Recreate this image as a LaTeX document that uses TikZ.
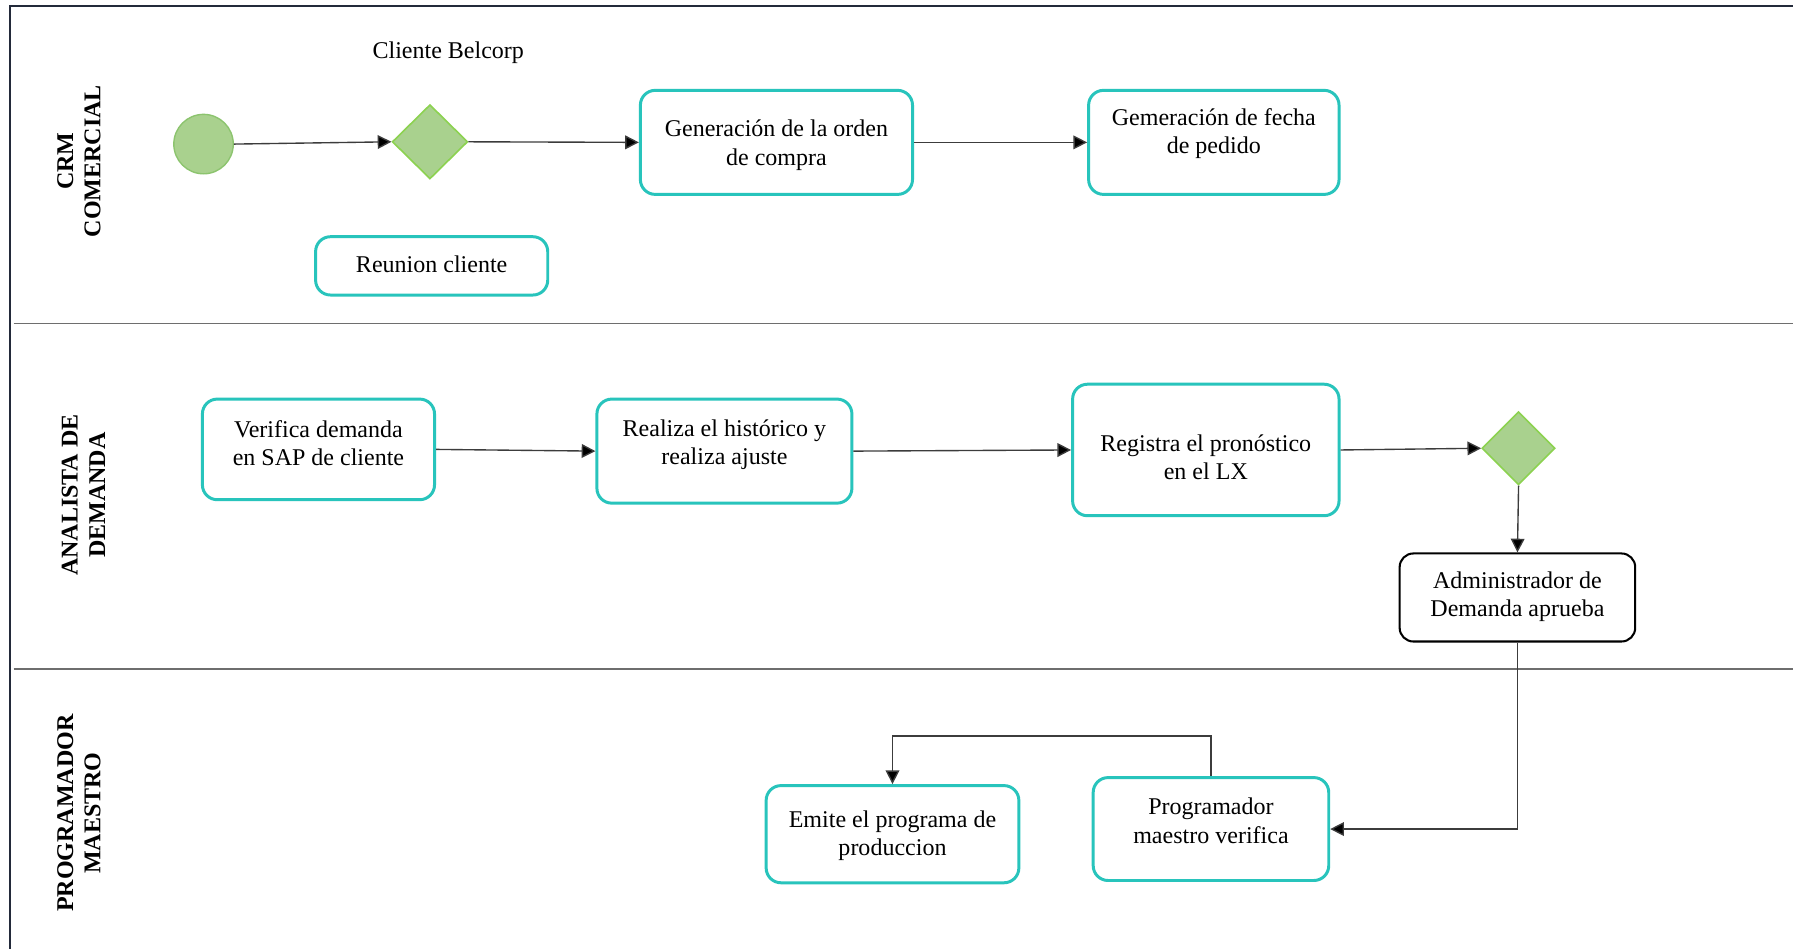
\documentclass[tikz,border=0pt]{standalone}
\usepackage{fontspec}
\setmainfont{Liberation Serif}
\usetikzlibrary{shapes.geometric,arrows.meta}
\definecolor{boxteal}{RGB}{40,196,188}
\definecolor{evgreen}{RGB}{169,209,142}
\definecolor{evedge}{RGB}{140,196,110}
\definecolor{gwedge}{RGB}{140,210,80}
\definecolor{frame}{RGB}{35,42,58}
\definecolor{sep}{RGB}{110,110,110}
\definecolor{flow}{RGB}{60,60,60}
\begin{document}
\begin{tikzpicture}[x=1pt,y=-1pt,
  txt/.style={font=\fontsize{21}{25}\selectfont, align=center, inner sep=0pt, yshift=-2.5pt},
  lane/.style={font=\fontsize{21}{24}\selectfont\bfseries, align=center, rotate=90, inner sep=0pt},
  box/.style={draw=boxteal, line width=2.6pt, rounded corners=13pt, fill=white, inner sep=0pt},
  blackbox/.style={draw=black, line width=1.8pt, rounded corners=12pt, fill=white, inner sep=0pt},
  startev/.style={circle, draw=evedge, line width=1.2pt, fill=evgreen, minimum size=52pt, inner sep=0pt},
  gateway/.style={diamond, draw=gwedge, line width=1.4pt, fill=evgreen, inner sep=0pt},
  flowline/.style={draw=flow, line width=1.2pt, -{Triangle[length=12pt,width=12pt,fill=black]}}
]
\useasboundingbox (0,0) rectangle (1568,830);
\fill[white] (0,0) rectangle (1568,830);

% pool frame and lane separators
\draw[frame, line width=2pt] (1568,5) -- (9,5) -- (9,830);
\draw[sep, line width=1.5pt] (12,283) -- (1568,283);
\draw[sep, line width=1.5pt] (12,585) -- (1568,585);

% lane titles
\node[lane] (laneA) at (69,141) {CRM\\COMERCIAL};
\node[lane] (laneB) at (73,433) {ANALISTA DE\\DEMANDA};
\node[lane] (laneC) at (69,711) {PROGRAMADOR\\MAESTRO};

% CRM comercial
\node[startev] (start) at (178,126) {};
\node[gateway, minimum width=66pt, minimum height=65pt] (gw1) at (376,124) {};
\node[txt] (belcorp) at (392,44) {Cliente Belcorp};
\node[box, minimum width=203pt, minimum height=51pt] (reu) at (377.5,232.5) {};
\node[txt] (reut) at (377.5,228.5) {Reunion cliente};
\node[box, minimum width=238pt, minimum height=91pt] (gen) at (679,124.5) {};
\node[txt] (gent) at (679,124.5) {Generación de la orden\\de compra};
\node[box, minimum width=219pt, minimum height=91pt] (gem) at (1061.5,124.5) {};
\node[txt] (gemt) at (1061.5,114.5) {Gemeración de fecha\\de pedido};

% Analista de demanda
\node[box, minimum width=203pt, minimum height=88pt] (ver) at (278.5,393) {};
\node[txt] (vert) at (278.5,385) {Verifica demanda\\en SAP de cliente};
\node[box, minimum width=223pt, minimum height=91pt] (real) at (633.5,394.5) {};
\node[txt] (realt) at (633.5,386.5) {Realiza el histórico y\\realiza ajuste};
\node[box, minimum width=233pt, minimum height=115pt] (reg) at (1054.5,393.5) {};
\node[txt] (regt) at (1054.5,397.5) {Registra el pronóstico\\en el LX};
\node[gateway, minimum width=64pt, minimum height=64pt] (gw2) at (1328,392) {};
\node[blackbox, minimum width=206pt, minimum height=77pt] (adm) at (1327,522.5) {};
\node[txt] (admt) at (1327,519.5) {Administrador de\\Demanda aprueba};

% Programador maestro
\node[box, minimum width=221pt, minimum height=85pt] (emi) at (780.5,729.5) {};
\node[txt] (emit) at (780.5,728.5) {Emite el programa de\\produccion};
\node[box, minimum width=206pt, minimum height=90pt] (pmv) at (1059,725) {};
\node[txt] (pmvt) at (1059,715.5) {Programador\\maestro verifica};

% sequence flows
\draw[flowline] (start.east) -- (gw1.west);
\draw[flowline] (gw1.east) -- (gen.west);
\draw[flowline] (gen.east) -- (gem.west);
\draw[flowline] (ver.east) -- (real.west);
\draw[flowline] (real.east) -- (reg.west);
\draw[flowline] (reg.east) -- (gw2.west);
\draw[flowline] (gw2.south) -- (adm.north);
\draw[flowline] (adm.south) |- (pmv.east);
\draw[flowline] (pmv.north) -- ++(0,-35) -| (emi.north);
\end{tikzpicture}
\end{document}
